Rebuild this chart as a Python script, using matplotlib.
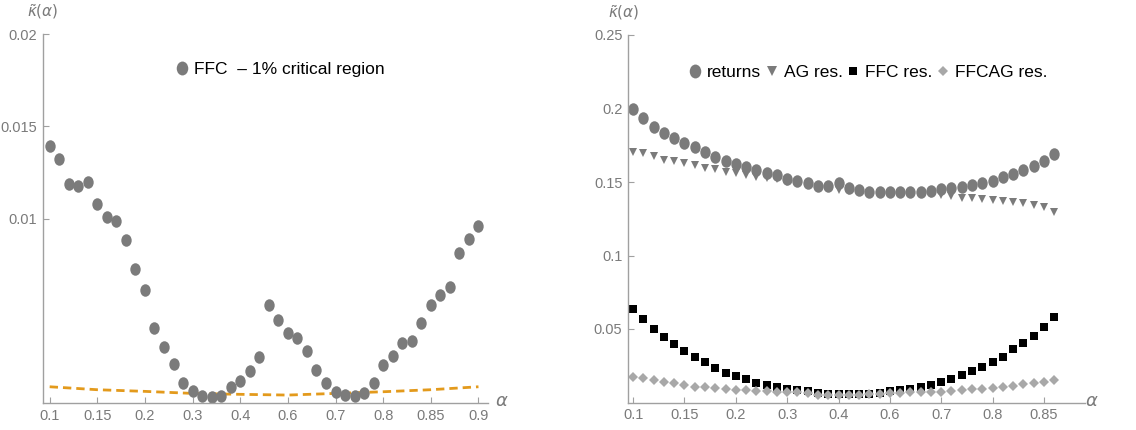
import matplotlib
matplotlib.use('Agg')
import matplotlib.pyplot as plt
from matplotlib import font_manager
from matplotlib.lines import Line2D
from matplotlib.path import Path
from matplotlib.transforms import Affine2D

# FFC statistic on the alpha grid (left panel)
ffc_kappa = [0.01391, 0.01323, 0.01189, 0.01175, 0.01196, 0.01076, 0.01009, 0.00984,
             0.00885, 0.00727, 0.00611, 0.00405, 0.00306, 0.00214, 0.00108, 0.00067,
             0.00036, 0.00031, 0.00036, 0.00085, 0.00121, 0.00171, 0.00250, 0.00531,
             0.00449, 0.00382, 0.00355, 0.00283, 0.00178, 0.00108, 0.00058, 0.00045,
             0.00040, 0.00054, 0.00108, 0.00207, 0.00256, 0.00324, 0.00337, 0.00436,
             0.00531, 0.00585, 0.00631, 0.00811, 0.00890, 0.00958]
# 1% critical region, read at every fifth grid point
crit_idx = [0, 5, 10, 15, 20, 25, 30, 35, 40, 45]
crit_kappa = [0.00088, 0.00072, 0.00063, 0.00052, 0.00047, 0.00043, 0.00052, 0.00061,
              0.00072, 0.00088]
left_tick_labels = ['0.1', '0.15', '0.2', '0.3', '0.4', '0.6', '0.7', '0.8', '0.85', '0.9']

# right panel series
returns_kappa = [0.1995, 0.1933, 0.1876, 0.1836, 0.1800, 0.1763, 0.1736, 0.1704, 0.1672,
                 0.1645, 0.1622, 0.1604, 0.1580, 0.1563, 0.1546, 0.1522, 0.1507, 0.1491,
                 0.1473, 0.1473, 0.1495, 0.1461, 0.1446, 0.1432, 0.1432, 0.1432, 0.1432,
                 0.1432, 0.1432, 0.1441, 0.1450, 0.1457, 0.1464, 0.1477, 0.1491, 0.1509,
                 0.1536, 0.1557, 0.1582, 0.1611, 0.1643, 0.1688]
ag_kappa = [0.1706, 0.1695, 0.1677, 0.1650, 0.1643, 0.1627, 0.1614, 0.1597, 0.1590,
            0.1570, 0.1559, 0.1548, 0.1536, 0.1529, 0.1518, 0.1502, 0.1491, 0.1480,
            0.1468, 0.1457, 0.1446, 0.1439, 0.1432, 0.1428, 0.1426, 0.1425, 0.1424,
            0.1423, 0.1421, 0.1418, 0.1412, 0.1405, 0.1393, 0.1389, 0.1384, 0.1378,
            0.1373, 0.1366, 0.1359, 0.1344, 0.1328, 0.1298]
ffc_res_kappa = [0.0634, 0.0566, 0.0500, 0.0446, 0.0400, 0.0352, 0.0312, 0.0273, 0.0235,
                 0.0203, 0.0180, 0.0158, 0.0130, 0.0119, 0.0105, 0.0092, 0.0085, 0.0076,
                 0.0062, 0.0056, 0.0056, 0.0056, 0.0058, 0.0060, 0.0067, 0.0076, 0.0085,
                 0.0094, 0.0108, 0.0119, 0.0142, 0.0160, 0.0185, 0.0212, 0.0244, 0.0276,
                 0.0312, 0.0362, 0.0407, 0.0454, 0.0516, 0.0580]
ffcag_kappa = [0.0176, 0.0164, 0.0151, 0.0139, 0.0130, 0.0117, 0.0108, 0.0108, 0.0099,
               0.0090, 0.0085, 0.0085, 0.0080, 0.0078, 0.0074, 0.0072, 0.0069, 0.0062,
               0.0054, 0.0054, 0.0054, 0.0054, 0.0054, 0.0055, 0.0057, 0.0062, 0.0067,
               0.0071, 0.0069, 0.0071, 0.0074, 0.0076, 0.0085, 0.0090, 0.0092, 0.0097,
               0.0108, 0.0114, 0.0124, 0.0133, 0.0142, 0.0155]
right_tick_labels = ['0.1', '0.15', '0.2', '0.3', '0.4', '0.6', '0.7', '0.8', '0.85']

GRAY = '#7b7b7b'
LIGHT = '#a8a8a8'
AXIS = '#a0a0a0'
TICKTXT = '#7a7a7a'
ORANGE = '#e39a1c'
LEG_FONT = ['Liberation Sans', 'DejaVu Sans']

# narrow face for tick numbers if there is one, otherwise a smaller regular one
_installed = {f.name for f in font_manager.fontManager.ttflist}
if 'Liberation Sans Narrow' in _installed:
    TICK_FONT, TICK_SIZE = ['Liberation Sans Narrow', 'DejaVu Sans'], 12
else:
    TICK_FONT, TICK_SIZE = ['Liberation Sans', 'DejaVu Sans'], 10.5

# slightly tall ellipse, the points look squeezed sideways
ellipse = Path.unit_circle().transformed(Affine2D().scale(0.83, 1.0))


def style_axes(ax, n_ticks, labels, yticks, ylabels):
    for side in ('top', 'right'):
        ax.spines[side].set_visible(False)
    for side in ('left', 'bottom'):
        ax.spines[side].set_color(AXIS)
        ax.spines[side].set_linewidth(1.0)
    ax.set_xticks(range(0, 5 * n_ticks, 5))
    ax.set_xticklabels(labels)
    ax.set_yticks(yticks)
    ax.set_yticklabels(ylabels)
    ax.tick_params(direction='in', length=4, width=0.8, color=AXIS,
                   labelcolor=TICKTXT, labelsize=TICK_SIZE, pad=4)
    for t in ax.get_xticklabels() + ax.get_yticklabels():
        t.set_family(TICK_FONT)


def main():
    fig = plt.figure(figsize=(11.36, 4.30), dpi=100)

    # left panel: FFC statistic with the critical region
    ax1 = fig.add_axes([43 / 1136, 1 - 403 / 430, 445 / 1136, 369 / 430])
    idx = range(len(ffc_kappa))
    ax1.plot(crit_idx, crit_kappa, color=ORANGE, lw=2.0, dashes=(3.0, 1.8))
    ax1.plot(idx, ffc_kappa, linestyle='none', marker=ellipse, markersize=9,
             color=GRAY, markeredgewidth=0)
    ax1.set_xlim(-0.7, 46)
    ax1.set_ylim(0, 0.02)
    style_axes(ax1, len(left_tick_labels), left_tick_labels,
               [0.01, 0.015, 0.02], ['0.01', '0.015', '0.02'])
    ax1.text(0.0, 1.035, r'$\tilde{\kappa}(\alpha)$', transform=ax1.transAxes,
             color=TICKTXT, fontsize=11, ha='center', va='bottom')
    ax1.text(1.015, 0.005, r'$\alpha$', transform=ax1.transAxes,
             color=TICKTXT, fontsize=13, ha='left', va='center')
    h1 = [Line2D([], [], linestyle='none', marker=ellipse, markersize=10,
                 color=GRAY, markeredgewidth=0)]
    ax1.legend(h1, ['FFC  \u2013 1% critical region'],
               frameon=False, loc='center', bbox_to_anchor=(0.533, 0.903),
               handlelength=0.8, handletextpad=0.3,
               prop={'family': LEG_FONT, 'size': 12.5})

    # right panel: returns and residual series
    ax2 = fig.add_axes([628 / 1136, 1 - 402.5 / 430, 457 / 1136, 367.5 / 430])
    idx2 = range(len(returns_kappa))
    ax2.plot(idx2, returns_kappa, linestyle='none', marker=ellipse, markersize=9,
             color=GRAY, markeredgewidth=0)
    ax2.plot(idx2, ag_kappa, linestyle='none', marker='v', markersize=6,
             color=GRAY, markeredgewidth=0)
    ax2.plot(idx2, ffc_res_kappa, linestyle='none', marker='s', markersize=6,
             color='black', markeredgewidth=0)
    ax2.plot(idx2, ffcag_kappa, linestyle='none', marker='D', markersize=4.6,
             color=LIGHT, markeredgewidth=0)
    ax2.set_xlim(-0.5, 44)
    ax2.set_ylim(0, 0.25)
    style_axes(ax2, len(right_tick_labels), right_tick_labels,
               [0.05, 0.1, 0.15, 0.2, 0.25], ['0.05', '0.1', '0.15', '0.2', '0.25'])
    ax2.text(-0.01, 1.035, r'$\tilde{\kappa}(\alpha)$', transform=ax2.transAxes,
             color=TICKTXT, fontsize=11, ha='center', va='bottom')
    ax2.text(1.0, 0.005, r'$\alpha$', transform=ax2.transAxes,
             color=TICKTXT, fontsize=13, ha='left', va='center')
    h2 = [Line2D([], [], linestyle='none', marker=ellipse, markersize=10,
                 color=GRAY, markeredgewidth=0),
          Line2D([], [], linestyle='none', marker='v', markersize=7,
                 color=GRAY, markeredgewidth=0),
          Line2D([], [], linestyle='none', marker='s', markersize=6,
                 color='black', markeredgewidth=0),
          Line2D([], [], linestyle='none', marker='D', markersize=5,
                 color=LIGHT, markeredgewidth=0)]
    ax2.legend(h2, ['returns', 'AG res.', 'FFC res.', 'FFCAG res.'], ncol=4,
               frameon=False, loc='center', bbox_to_anchor=(0.525, 0.897),
               handlelength=0.8, handletextpad=0.3, columnspacing=0.2,
               prop={'family': LEG_FONT, 'size': 12.5})

    fig.savefig('out.png', dpi=100)


if __name__ == '__main__':
    main()
